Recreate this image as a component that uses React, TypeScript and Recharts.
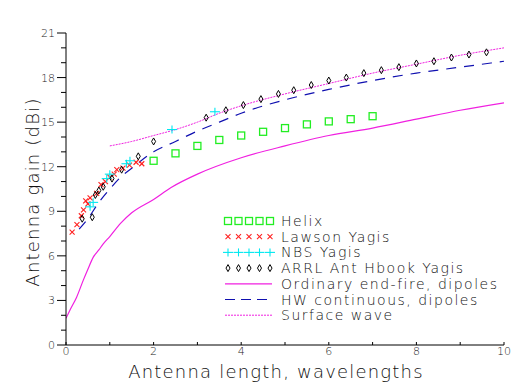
import React from 'react';
import { ComposedChart, Line, Scatter, XAxis, YAxis, Legend } from 'recharts';

// ---- data ----
const helixX = [2, 2.5, 3, 3.5, 4, 4.5, 5, 5.5, 6, 6.5, 7];
const helixY = [12.4, 12.9, 13.4, 13.8, 14.1, 14.35, 14.6, 14.85, 15.05, 15.2, 15.4];

const lawsonX = [0.14, 0.25, 0.35, 0.4, 0.45, 0.5, 0.55, 0.7, 0.8, 0.9, 1.0, 1.1, 1.16, 1.3, 1.45, 1.6, 1.73];
const lawsonY = [7.6, 8.1, 8.7, 9.1, 9.7, 9.5, 9.9, 10.2, 10.8, 11.0, 11.3, 11.5, 11.8, 11.9, 12.1, 12.3, 12.2];

const nbsX = [0.55, 0.62, 0.93, 1.0, 1.38, 1.46, 2.42, 3.4];
const nbsY = [9.3, 9.6, 11.2, 11.5, 12.2, 12.4, 14.5, 15.7];

const arrlX = [0.37, 0.6, 0.67, 0.75, 0.85, 1.05, 1.27, 1.65, 2.0, 3.2, 3.65, 4.05, 4.45, 4.85, 5.2, 5.6, 6.0, 6.4, 6.8, 7.2, 7.6, 8.0, 8.4, 8.8, 9.2, 9.6];
const arrlY = [8.5, 8.6, 10.1, 10.4, 10.65, 11.2, 11.8, 12.7, 13.7, 15.3, 15.8, 16.15, 16.55, 16.9, 17.15, 17.5, 17.8, 18.0, 18.3, 18.5, 18.7, 18.95, 19.1, 19.35, 19.55, 19.7];

const endfireX = [0, 0.1, 0.24, 0.4, 0.5, 0.62, 0.75, 0.85, 1.0, 1.25, 1.5, 2.0, 2.4, 3.0, 4.0, 5.0, 6.0, 7.0, 8.0, 9.0, 10.0];
const endfireY = [1.8, 2.4, 3.2, 4.4, 5.1, 5.9, 6.4, 6.8, 7.3, 8.2, 8.9, 9.8, 10.6, 11.5, 12.6, 13.4, 14.1, 14.6, 15.2, 15.8, 16.3];

const hwX = [0.3, 0.5, 0.75, 1.0, 1.25, 1.5, 2.0, 2.5, 3.0, 3.5, 4.0, 5.0, 6.0, 7.0, 8.0, 9.0, 10.0];
const hwY = [7.8, 8.5, 9.6, 10.5, 11.3, 11.9, 13.0, 13.7, 14.4, 15.0, 15.6, 16.5, 17.2, 17.8, 18.3, 18.7, 19.1];

const surfX = [1.0, 1.5, 2.0, 2.5, 3.0, 3.5, 4.0, 5.0, 6.0, 7.0, 8.0, 9.0, 10.0];
const surfY = [13.4, 13.7, 14.1, 14.5, 15.0, 15.6, 16.1, 16.9, 17.6, 18.3, 18.9, 19.5, 20.0];

const xTicks = [0, 1, 2, 3, 4, 5, 6, 7, 8, 9, 10];
const yTicks = [0, 1, 2, 3, 4, 5, 6, 7, 8, 9, 10, 11, 12, 13, 14, 15, 16, 17, 18, 19, 20, 21];

const legendLabels = [
  'Helix',
  'Lawson Yagis',
  'NBS Yagis',
  'ARRL Ant Hbook Yagis',
  'Ordinary end-fire, dipoles',
  'HW continuous, dipoles',
  'Surface wave',
];

const zip = (xs: number[], ys: number[]) => xs.map((x, i) => ({ x, y: ys[i] }));

const helix = zip(helixX, helixY);
const lawson = zip(lawsonX, lawsonY);
const nbs = zip(nbsX, nbsY);
const arrl = zip(arrlX, arrlY);
const endfire = zip(endfireX, endfireY);
const hw = zip(hwX, hwY);
const surf = zip(surfX, surfY);

const FONT = '"DejaVu Sans", sans-serif';
const TEXT_WEIGHT = 200;
const GREEN = '#22ee22';
const RED = '#ff2020';
const CYAN = '#00e8f0';
const MAGENTA = '#f020e0';
const NAVY = '#1010b0';

// ---- marker shapes ----
const Square = (cx: number, cy: number) => (
  <rect x={cx - 3.5} y={cy - 3.5} width={7} height={7} fill="none" stroke={GREEN} strokeWidth={1.3} />
);
const Cross = (cx: number, cy: number) => (
  <g stroke={RED} strokeWidth={1.1}>
    <line x1={cx - 2.5} y1={cy - 2.5} x2={cx + 2.5} y2={cy + 2.5} />
    <line x1={cx - 2.5} y1={cy + 2.5} x2={cx + 2.5} y2={cy - 2.5} />
  </g>
);
const Plus = (cx: number, cy: number) => (
  <g stroke={CYAN} strokeWidth={1.1}>
    <line x1={cx - 5} y1={cy} x2={cx + 5} y2={cy} />
    <line x1={cx} y1={cy - 4} x2={cx} y2={cy + 4} />
  </g>
);
const Diamond = (cx: number, cy: number) => (
  <path d={`M${cx},${cy - 3.5}L${cx + 2},${cy}L${cx},${cy + 3.5}L${cx - 2},${cy}Z`} fill="none" stroke="#000" strokeWidth={1} />
);

const shapeOf = (fn: (cx: number, cy: number) => React.ReactElement) => (p: any) => fn(p.cx, p.cy);

// ---- ticks ----
const YTick = (p: any) => {
  const v = p.payload.value;
  const major = v % 3 === 0;
  return (
    <g>
      <line x1={p.x - (major ? 9 : 5)} y1={p.y} x2={p.x} y2={p.y} stroke="#000" strokeWidth={1} />
      {major && (
        <text x={p.x - 11} y={p.y + 4} textAnchor="end" fontSize={11} fontWeight={TEXT_WEIGHT} fontFamily={FONT} fill="#222">
          {v}
        </text>
      )}
    </g>
  );
};
const XTick = (p: any) => {
  const v = p.payload.value;
  const major = v % 2 === 0;
  return (
    <g>
      <line x1={p.x} y1={p.y} x2={p.x} y2={p.y - 3} stroke="#000" strokeWidth={1} />
      {major && (
        <text x={p.x} y={p.y + 10} textAnchor="middle" fontSize={11} fontWeight={TEXT_WEIGHT} fontFamily={FONT} fill="#222">
          {v}
        </text>
      )}
    </g>
  );
};

// ---- legend ----
const markerFns = [Square, Cross, Plus, Diamond];
const LegendBox = () => {
  const rowH = 15.7;
  return (
    <svg width={300} height={115} style={{ display: 'block' }}>
      {legendLabels.map((lab, i) => {
        const cy = 10 + i * rowH;
        let sym: React.ReactNode = null;
        if (i < 4) {
          sym = <g>{[0, 1, 2, 3, 4].map((k) => <g key={k}>{markerFns[i](10 + k * 10.5, cy)}</g>)}</g>;
        } else if (i === 4) {
          sym = <line x1={7} y1={cy} x2={54} y2={cy} stroke={MAGENTA} strokeWidth={1.2} />;
        } else if (i === 5) {
          sym = <line x1={7} y1={cy} x2={54} y2={cy} stroke={NAVY} strokeWidth={1.2} strokeDasharray="10 6" />;
        } else {
          sym = <line x1={7} y1={cy} x2={54} y2={cy} stroke={MAGENTA} strokeWidth={1} strokeDasharray="2 1" />;
        }
        return (
          <g key={lab}>
            {sym}
            <text x={63} y={cy + 5} fontSize={14} fontWeight={TEXT_WEIGHT} letterSpacing={1.5} fontFamily={FONT} fill="#111">
              {lab}
            </text>
          </g>
        );
      })}
    </svg>
  );
};

export default function App() {
  return (
    <div style={{ position: 'absolute', left: 0, top: 0, width: 512, height: 384, background: '#fff' }}>
      <ComposedChart width={512} height={384} margin={{ top: 33, right: 8, left: 0, bottom: 0 }}>
        <XAxis
          type="number"
          dataKey="x"
          domain={[0, 10]}
          ticks={xTicks}
          interval={0}
          height={39}
          tickSize={0}
          tickMargin={0}
          tickLine={false}
          tick={XTick}
          axisLine={{ stroke: '#000', strokeWidth: 1 }}
          allowDataOverflow
          label={{
            value: 'Antenna length, wavelengths',
            position: 'center',
            dx: -9,
            dy: 7,
            style: { fontSize: 18, fontWeight: TEXT_WEIGHT, letterSpacing: 1.2, fontFamily: FONT, fill: '#111' },
          }}
        />
        <YAxis
          type="number"
          dataKey="y"
          domain={[0, 21]}
          ticks={yTicks}
          interval={0}
          width={66}
          tickSize={0}
          tickMargin={0}
          tickLine={false}
          tick={YTick}
          axisLine={{ stroke: '#000', strokeWidth: 1 }}
          allowDataOverflow
          label={{
            value: 'Antenna gain (dBi)',
            angle: -90,
            position: 'center',
            dx: 0,
            dy: 3,
            style: { fontSize: 18, fontWeight: TEXT_WEIGHT, letterSpacing: 1.2, fontFamily: FONT, fill: '#111', textAnchor: 'middle' },
          }}
        />
        <Line data={endfire} dataKey="y" type="monotone" stroke={MAGENTA} strokeWidth={1.2} dot={false} isAnimationActive={false} />
        <Line data={hw} dataKey="y" type="monotone" stroke={NAVY} strokeWidth={1.2} strokeDasharray="10 8" dot={false} isAnimationActive={false} />
        <Line data={surf} dataKey="y" type="monotone" stroke={MAGENTA} strokeWidth={1} strokeDasharray="2 1" dot={false} isAnimationActive={false} />
        <Scatter data={helix} shape={shapeOf(Square)} isAnimationActive={false} />
        <Scatter data={lawson} shape={shapeOf(Cross)} isAnimationActive={false} />
        <Scatter data={nbs} shape={shapeOf(Plus)} isAnimationActive={false} />
        <Scatter data={arrl} shape={shapeOf(Diamond)} isAnimationActive={false} />
        <Legend
          layout="vertical"
          align="center"
          verticalAlign="middle"
          content={LegendBox}
          wrapperStyle={{ position: 'absolute', left: 218, top: 211, width: 300, height: 115 }}
        />
      </ComposedChart>
    </div>
  );
}
